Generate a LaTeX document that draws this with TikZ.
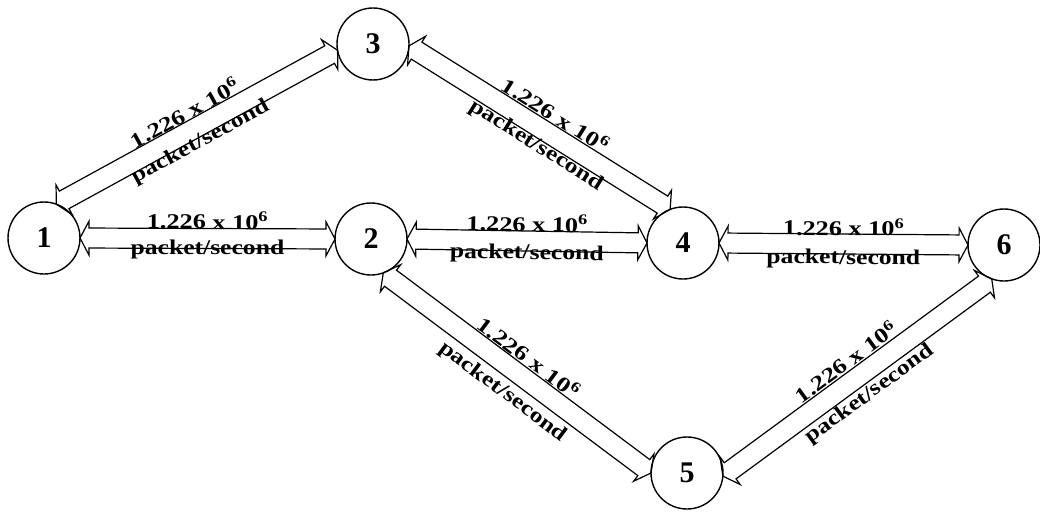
\documentclass[tikz,border=0pt]{standalone}
\usepackage{fontspec}
\setmainfont{Liberation Serif}
\usepackage{graphicx}
\usetikzlibrary{calc}
\tikzset{
  circ/.style={circle, draw, line width=1.4pt, minimum size=72pt, inner sep=0pt, outer sep=0pt,
    font=\fontsize{30}{30}\selectfont\bfseries},
  arrowline/.style={line width=1.2pt, line join=miter},
  lab/.style={inner sep=0pt, font=\fontsize{21}{21}\selectfont\bfseries, sloped},
}
\newcommand\dblarrow[2]{%
  \coordinate (hA) at ($(#1)!9pt!(#2)$);
  \coordinate (hB) at ($(#2)!9pt!(#1)$);
  \draw[arrowline] (#1) -- ($(hA)!17pt!90:(#2)$) -- ($(hA)!10pt!90:(#2)$)
    -- ($(hB)!10pt!-90:(#1)$) -- ($(hB)!17pt!-90:(#1)$) -- (#2)
    -- ($(hB)!17pt!90:(#1)$) -- ($(hB)!10pt!90:(#1)$)
    -- ($(hA)!10pt!-90:(#2)$) -- ($(hA)!17pt!-90:(#2)$) -- cycle;
}
% #1,#2 tips; #3 offset of the rate above; #4 offset of the unit below; #5 position along
\newcommand\rate[5]{%
  \path ($(#1)!#3pt!90:(#2)$) -- ($(#2)!#3pt!-90:(#1)$)
    node[lab, pos=#5] {\scalebox{1.25}[1]{1.226 x 10\textsuperscript{6}}};
  \path ($(#1)!#4pt!-90:(#2)$) -- ($(#2)!#4pt!90:(#1)$)
    node[lab, pos=#5] {\scalebox{1.22}[1]{packet/second}};
}
\begin{document}
\begin{tikzpicture}[x=1pt, y=1pt]
\useasboundingbox (0,0) rectangle (1040,515);
\node[circ] (n1) at (44,277) {1};
\node[circ] (n2) at (371,276) {2};
\node[circ] (n3) at (373,471) {3};
\node[circ] (n4) at (683,272) {4};
\node[circ] (n5) at (687,42) {5};
\node[circ] (n6) at (1004,270) {6};

\coordinate (a12) at (n1.0);   \coordinate (b12) at (n2.180);
\coordinate (a13) at (n1.70);  \coordinate (b13) at (n3.190);
\coordinate (a34) at (n3.357); \coordinate (b34) at (n4.111);
\coordinate (a24) at (n2.0);   \coordinate (b24) at (n4.180);
\coordinate (a46) at (n4.0);   \coordinate (b46) at (n6.180);
\coordinate (a25) at (n2.290); \coordinate (b25) at (n5.180);
\coordinate (a56) at (n5.355); \coordinate (b56) at (n6.250);

\dblarrow{a12}{b12}
\dblarrow{a13}{b13}
\dblarrow{a34}{b34}
\dblarrow{a24}{b24}
\dblarrow{a46}{b46}
\dblarrow{a25}{b25}
\dblarrow{a56}{b56}

\rate{a12}{b12}{18}{11}{0.5}
\rate{a13}{b13}{19}{15}{0.487}
\rate{a34}{b34}{20}{17}{0.522}
\rate{a24}{b24}{18}{13}{0.5}
\rate{a46}{b46}{17}{15}{0.5}
\rate{a25}{b25}{20}{24}{0.5}
\rate{a56}{b56}{20}{21}{0.5}
\end{tikzpicture}
\end{document}
